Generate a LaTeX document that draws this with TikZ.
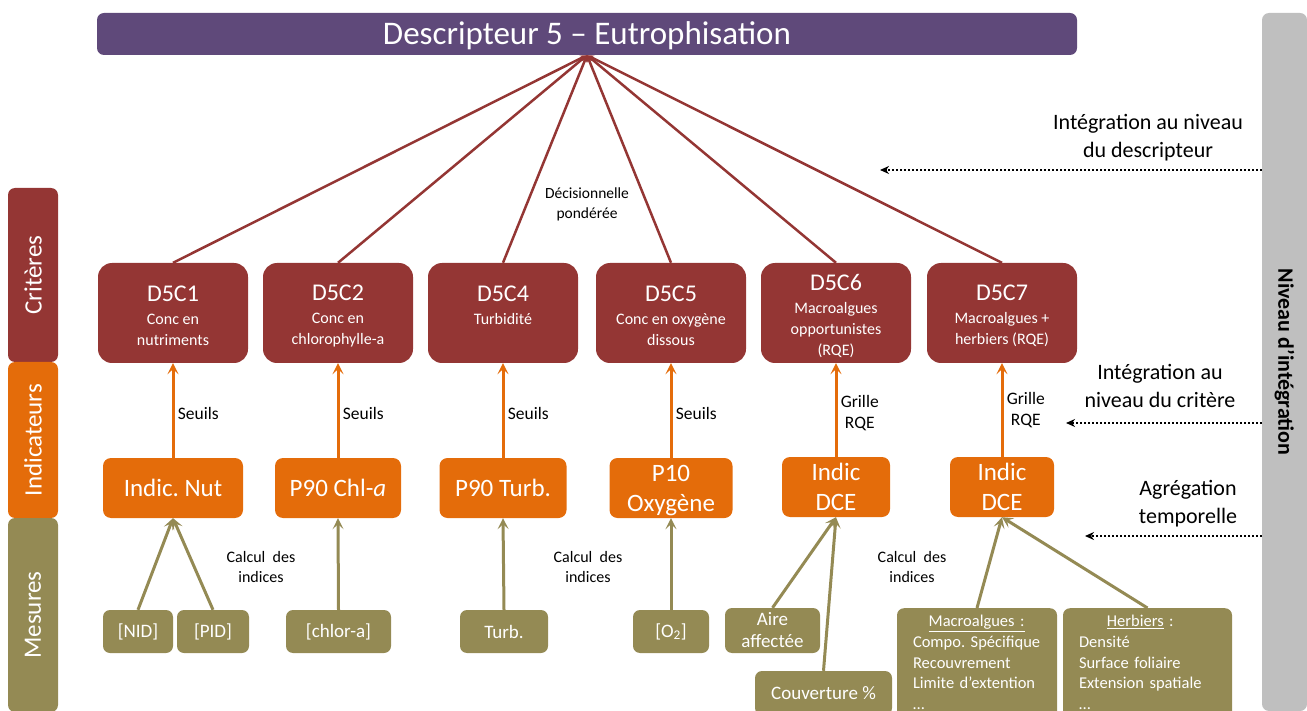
\documentclass[tikz,border=0pt]{standalone}
\usepackage{fontspec}
\setmainfont{Carlito}
\usepackage{xcolor}
\usetikzlibrary{arrows.meta, positioning, calc}
\definecolor{descpurple}{HTML}{5F497A}
\definecolor{critred}{HTML}{943634}
\definecolor{indorange}{HTML}{E46C0A}
\definecolor{mesolive}{HTML}{948A54}
\definecolor{levelgray}{HTML}{BFBFBF}
\newcommand{\critsub}{\fontsize{16}{21}\selectfont}
\newcommand{\crittitle}[1]{\rule{0pt}{22pt}#1}

\begin{document}
\begin{tikzpicture}[x=1pt, y=-1pt,
  descbar/.style={rectangle, rounded corners=7pt, fill=descpurple, text=white, minimum width=980pt, minimum height=42pt, inner sep=0pt, text height=21pt, text depth=0pt, font=\fontsize{33}{36}\selectfont},
  band/.style={rectangle, rounded corners=7pt, text=white, minimum height=50pt, inner sep=0pt, font=\fontsize{25}{30}\selectfont},
  crit/.style={rectangle, rounded corners=14pt, fill=critred, text=white, minimum width=150pt, minimum height=100pt, inner sep=0pt, align=center, font=\fontsize{24}{21}\selectfont},
  indic/.style={rectangle, rounded corners=8pt, fill=indorange, text=white, minimum height=60pt, inner sep=0pt, text depth=0pt, align=center, font=\fontsize{25}{30}\selectfont},
  mesure/.style={rectangle, rounded corners=7pt, fill=mesolive, text=white, minimum height=43pt, inner sep=0pt, align=center, font=\fontsize{19}{22}\selectfont},
  mesliste/.style={mesure, anchor=north, align=left, inner xsep=16pt, inner ysep=4pt, font=\fontsize{16.5}{20.7}\selectfont},
  lbl/.style={align=center, font=\fontsize{16}{20}\selectfont},
  seuil/.style={right, align=center, font=\fontsize{17.5}{21}\selectfont, yshift=-3pt},
  niveau/.style={align=center, font=\fontsize{22}{28}\selectfont},
  toDesc/.style={-{Stealth[length=7pt,width=6pt]}, line width=2.5pt, draw=critred},
  toCrit/.style={-{Stealth[length=11pt,width=11pt,inset=5pt]}, line width=3pt, draw=indorange},
  toInd/.style={-{Stealth[length=11pt,width=11pt,inset=5pt]}, line width=3pt, draw=mesolive},
  integ/.style={-{Stealth[length=9pt,width=8pt]}, line width=2.2pt, dash pattern=on 2pt off 2pt}
]
  \useasboundingbox (0,0) rectangle (1307,711);

  \node[descbar] (desc) at (587,34) {Descripteur 5 – Eutrophisation};

  % bandes laterales
  \node[band, fill=critred, minimum width=174pt, rotate=90] (bcrit) at (33,275) {Critères};
  \node[band, fill=indorange, minimum width=156pt, rotate=90] (bind) at (33,440) {Indicateurs};
  \node[band, fill=mesolive, minimum width=194pt, rotate=90] (bmes) at (33,615) {Mesures};
  \node[band, fill=levelgray, text=black, minimum width=698pt, minimum height=45pt, rotate=-90, font=\fontsize{22}{26}\selectfont\bfseries] (niv) at (1284.5,362) {Niveau d’intégration};

  % criteres
  \node[crit] (c1) at (173,313) {\crittitle{D5C1}\\[2pt]\critsub Conc en\\\critsub nutriments};
  \node[crit] (c2) at (338,313) {\crittitle{D5C2}\\[2pt]\critsub Conc en\\\critsub chlorophylle-a};
  \node[crit] (c4) at (503,313) {\crittitle{D5C4}\\[2pt]\critsub Turbidité\\\critsub\mbox{}};
  \node[crit] (c5) at (671,313) {\crittitle{D5C5}\\[2pt]\critsub Conc en oxygène\\\critsub dissous};
  \node[crit] (c6) at (836,313) {\crittitle{D5C6}\\[2pt]\critsub Macroalgues\\\critsub opportunistes\\\critsub (RQE)};
  \node[crit] (c7) at (1002,313) {\crittitle{D5C7}\\[2pt]\critsub Macroalgues +\\\critsub herbiers (RQE)};

  % indicateurs
  \node[indic, minimum width=140pt] (i1) at (173,488) {Indic.\ Nut};
  \node[indic, minimum width=126pt] (i2) at (338,488) {P90 Chl-\textit{a}};
  \node[indic, minimum width=127pt] (i4) at (503,488) {P90 Turb.};
  \node[indic, minimum width=123pt] (i5) at (671,488) {P10\\Oxygène};
  \node[indic, minimum width=108pt] (i6) at (836,487) {Indic\\DCE};
  \node[indic, minimum width=104pt] (i7) at (1002,487) {Indic\\DCE};

  % mesures
  \node[mesure, minimum width=70pt] (nid) at (138,631.5) {[NID]};
  \node[mesure, minimum width=72pt] (pid) at (213,631.5) {[PID]};
  \node[mesure, minimum width=105pt] (chlor) at (338.5,631.5) {[chlor-a]};
  \node[mesure, minimum width=88pt] (turb) at (504,631.5) {Turb.};
  \node[mesure, minimum width=76pt] (oxy) at (671,631.5) {[O\textsubscript{2}]};
  \node[mesure, minimum width=95pt, minimum height=45pt] (aire) at (772.5,630.5) {Aire\\affectée};
  \node[mesure, minimum width=137pt, minimum height=44pt] (couv) at (823.5,693) {Couverture \%};
  \node[mesliste, text width=128pt] (macro) at (977,608)
    {\begin{tabular}{@{}l@{}}\multicolumn{1}{c}{\underline{Macroalgues :}}\\Compo.\ Spécifique\\Recouvrement\\Limite d’extention\\…\end{tabular}};
  \node[mesliste, text width=137pt] (herb) at (1147.5,608)
    {\begin{tabular}{@{}l@{}}\multicolumn{1}{c}{\underline{Herbiers} :}\\Densité\\Surface foliaire\\Extension spatiale\\…\end{tabular}};

  % vers le descripteur
  \draw[toDesc] (c1.north) -- (desc.south);
  \draw[toDesc] (c2.north) -- (desc.south);
  \draw[toDesc] (c4.north) -- (desc.south);
  \draw[toDesc] (c5.north) -- (desc.south);
  \draw[toDesc] (c6.north) -- (desc.south);
  \draw[toDesc] (c7.north) -- (desc.south);
  \node[lbl, font=\fontsize{15.5}{20}\selectfont] (decis) at (587,204) {Décisionnelle\\pondérée};

  % vers les criteres
  \draw[toCrit] (i1.north) -- node[seuil] {Seuils} (c1.south);
  \draw[toCrit] (i2.north) -- node[seuil] {Seuils} (c2.south);
  \draw[toCrit] (i4.north) -- node[seuil] {Seuils} (c4.south);
  \draw[toCrit] (i5.north) -- node[seuil] {Seuils} (c5.south);
  \draw[toCrit] (i6.north) -- node[seuil] {Grille\\RQE} (c6.south);
  \draw[toCrit] (i7.north) -- node[seuil, yshift=3pt] {Grille\\RQE} (c7.south);

  % vers les indicateurs
  \draw[toInd] (nid.north) -- (i1.south);
  \draw[toInd] (pid.north) -- (i1.south);
  \draw[toInd] (chlor.north) -- (i2.south);
  \draw[toInd] (turb.north) -- (i4.south);
  \draw[toInd] (oxy.north) -- (i5.south);
  \draw[toInd] (aire.north) -- (i6.south);
  \draw[toInd] (couv.north) -- (i6.south);
  \draw[toInd] (macro.north) -- (i7.south);
  \draw[toInd] (herb.north) -- (i7.south);
  \node[lbl] (calc1) at (261,567) {Calcul~~des\\indices};
  \node[lbl] (calc2) at (588,567) {Calcul~~des\\indices};
  \node[lbl] (calc3) at (912,567) {Calcul~~des\\indices};

  % niveaux d'integration
  \coordinate (d1) at (880,170);
  \coordinate (d2) at (1066,423);
  \coordinate (d3) at (1085,536);
  \draw[integ] (niv.south |- d1) -- (d1);
  \draw[integ] (niv.south |- d2) -- (d2);
  \draw[integ] (niv.south |- d3) -- (d3);
  \node[niveau] (intdesc) at (1148,138) {Intégration au niveau\\du descripteur};
  \node[niveau] (intcrit) at (1160,386) {Intégration au\\niveau du critère};
  \node[niveau] (aggr) at (1188,504) {Agrégation\\temporelle};
\end{tikzpicture}
\end{document}
